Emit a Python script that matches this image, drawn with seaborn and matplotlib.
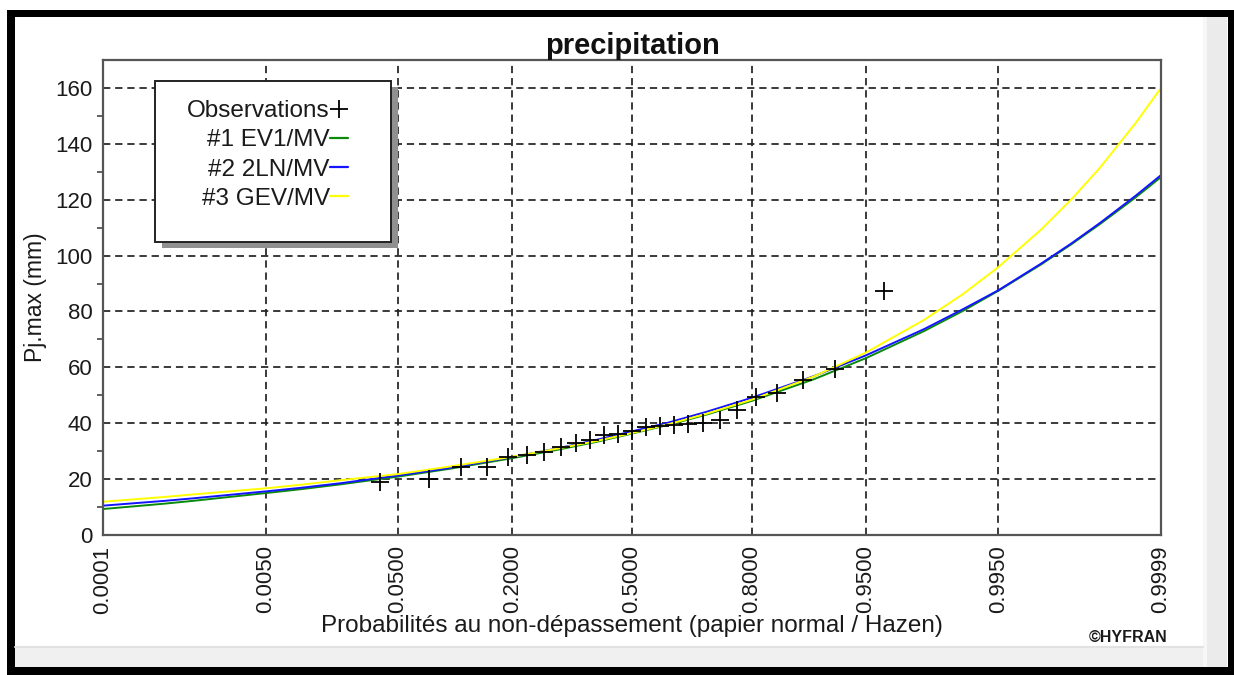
import numpy as np
import pandas as pd
import matplotlib
matplotlib.use("Agg")
import matplotlib.pyplot as plt
import seaborn as sns
from matplotlib.patches import Rectangle
from matplotlib.lines import Line2D
from matplotlib.ticker import FixedLocator
from statistics import NormalDist

# ---------------- data ----------------
tick_probs = [0.0001, 0.0050, 0.0500, 0.2000, 0.5000, 0.8000, 0.9500, 0.9950, 0.9999]
tick_labels = ["0.0001", "0.0050", "0.0500", "0.2000", "0.5000", "0.8000", "0.9500", "0.9950", "0.9999"]
y_ticks = [0, 20, 40, 60, 80, 100, 120, 140, 160]

obs_prob = [0.038, 0.077, 0.115, 0.154, 0.192, 0.231, 0.269, 0.308, 0.346, 0.385,
            0.423, 0.462, 0.500, 0.538, 0.577, 0.615, 0.654, 0.692, 0.731, 0.769,
            0.808, 0.846, 0.885, 0.923, 0.962]
obs_value = [19.1, 20.0, 24.2, 24.5, 28.0, 28.8, 29.6, 31.6, 32.9, 34.0,
             35.8, 36.0, 37.4, 38.6, 39.0, 39.2, 39.6, 40.2, 41.2, 44.7,
             49.5, 50.7, 55.5, 59.3, 87.2]

curve_prob = [0.0001, 0.0005, 0.001, 0.005, 0.01, 0.02, 0.05, 0.1, 0.2, 0.3, 0.4, 0.5,
              0.6, 0.7, 0.8, 0.9, 0.95, 0.98, 0.99, 0.995, 0.998, 0.999, 0.9995, 0.9998, 0.9999]
ev1_mv = [9.3, 11.2, 12.2, 15.0, 16.4, 18.1, 20.9, 23.7, 27.5, 30.5, 33.3, 36.3,
          39.4, 43.1, 48.0, 55.8, 63.3, 73.0, 80.2, 87.4, 96.9, 104.1, 111.3, 120.8, 128.1]
ln2_mv = [10.5, 12.2, 13.1, 15.6, 16.9, 18.5, 21.3, 24.0, 27.9, 31.0, 34.0, 37.1,
          40.2, 44.1, 49.1, 56.9, 64.3, 73.7, 80.8, 87.6, 97.2, 104.4, 111.7, 121.4, 128.8]
gev_mv = [11.9, 13.6, 14.5, 16.7, 18.0, 19.6, 21.8, 24.5, 28.0, 30.9, 33.6, 36.5,
          39.6, 43.4, 48.4, 56.8, 65.3, 77.0, 86.2, 95.9, 109.4, 120.2, 131.5, 147.4, 160.0]

series_names = ["#1 EV1/MV", "#2 2LN/MV", "#3 GEV/MV"]
series_colors = ["#0a8a0a", "#1414ff", "#ffff00"]

# ---------------- setup ----------------
sns.set_theme(style="white")
plt.rcParams['font.family'] = ['Liberation Sans', 'DejaVu Sans']

W, H = 1234, 675
fig = plt.figure(figsize=(W / 100, H / 100), dpi=100)
fig.patch.set_facecolor("white")

def fx(px):
    return px / W

def fy(py):
    return 1 - py / H

# window frame
fig.add_artist(Rectangle((fx(7), fy(675)), fx(1234) - fx(7), fy(10) - fy(675),
                         transform=fig.transFigure, facecolor="black", edgecolor="none", zorder=0))
fig.add_artist(Rectangle((fx(15), fy(667)), fx(1228) - fx(15), fy(17) - fy(667),
                         transform=fig.transFigure, facecolor="white", edgecolor="none", zorder=0))
fig.add_artist(Rectangle((fx(1203), fy(667)), fx(1227) - fx(1203), fy(17) - fy(667),
                         transform=fig.transFigure, facecolor="#ebebeb", edgecolor="none", zorder=0))
fig.add_artist(Rectangle((fx(1203), fy(667)), fx(1207) - fx(1203), fy(17) - fy(667),
                         transform=fig.transFigure, facecolor="#f7f7f7", edgecolor="none", zorder=0))
fig.add_artist(Rectangle((fx(15), fy(667)), fx(1203) - fx(15), fy(647) - fy(667),
                         transform=fig.transFigure, facecolor="#f0f0f0", edgecolor="none", zorder=0))
fig.add_artist(Line2D([fx(15), fx(1203)], [fy(647), fy(647)], transform=fig.transFigure,
                      color="#e2e2e2", lw=1.5, zorder=0))

ax = fig.add_axes([fx(103), fy(535), fx(1161) - fx(103), fy(60) - fy(535)])
ax.set_facecolor("white")
ax.set_axisbelow(True)

nd = NormalDist()
curve_z = [nd.inv_cdf(p) for p in curve_prob]
obs_z = [nd.inv_cdf(p) for p in obs_prob]

df = pd.DataFrame({
    "z": curve_z * 3,
    "value": ev1_mv + ln2_mv + gev_mv,
    "model": [series_names[0]] * len(curve_z) + [series_names[1]] * len(curve_z) + [series_names[2]] * len(curve_z),
})
sns.lineplot(data=df, x="z", y="value", hue="model", hue_order=series_names,
             palette=dict(zip(series_names, series_colors)), sort=False, estimator=None,
             legend=False, linewidth=1.4, ax=ax)
sns.scatterplot(x=obs_z, y=obs_value, marker="+", s=160, color="black", linewidth=1.3,
                legend=False, ax=ax, zorder=3)

# axes
ax.set_xlim(nd.inv_cdf(tick_probs[0]), nd.inv_cdf(tick_probs[-1]))
ax.set_ylim(0, 170)
ax.set_xticks([nd.inv_cdf(p) for p in tick_probs])
ax.set_xticklabels(tick_labels, rotation=90)
ax.set_yticks(y_ticks)
ax.yaxis.set_minor_locator(FixedLocator([10, 30, 50, 70, 90, 110, 130, 150]))
ax.grid(True, which="major", color="#222222", linestyle=(0, (4.2, 2.8)), linewidth=1.25)
ax.tick_params(axis="both", which="major", direction="inout", length=9, width=1.3,
               color="#444444", labelsize=16, labelcolor="#1a1a1a", pad=3)
ax.tick_params(axis="y", which="minor", direction="out", length=4, width=1.2, color="#444444", left=True)
for s in ax.spines.values():
    s.set_visible(True)
    s.set_color("#555555")
    s.set_linewidth(1.6)

ax.set_title("precipitation", fontsize=21, fontweight="bold", color="#111111", pad=4)
ax.set_xlabel("Probabilités au non-dépassement (papier normal / Hazen)", fontsize=17.5, color="#1a1a1a")
ax.xaxis.set_label_coords(0.5, -0.168)
ax.xaxis.label.set_va("top")
ax.set_ylabel("Pj.max (mm)", fontsize=16.5, color="#1a1a1a")
ax.yaxis.set_label_coords(-0.053, 0.5)

# legend box with shadow
aw, ah = 1058, 475
bx0, bx1 = (155 - 103) / aw, (391 - 103) / aw
by0, by1 = (535 - 242) / ah, (535 - 81) / ah
ax.add_patch(Rectangle((bx0 + 7 / aw, by0 - 6 / ah), bx1 - bx0, by1 - by0, transform=ax.transAxes,
                       facecolor="#909090", edgecolor="none", zorder=4.4))
ax.add_patch(Rectangle((bx0, by0), bx1 - bx0, by1 - by0, transform=ax.transAxes,
                       facecolor="white", edgecolor="#222222", linewidth=1.4, zorder=4.5))

handles = [Line2D([], [], marker="+", color="black", ls="none", ms=13, mew=1.3)]
handles += [Line2D([], [], color=c, lw=1.6) for c in series_colors]
labels = ["Observations"] + series_names
leg = ax.legend(handles, labels, loc="upper right",
                bbox_to_anchor=((348 - 103) / aw, (535 - 100) / ah),
                frameon=False, markerfirst=False, handlelength=0.75, handletextpad=0.0,
                labelspacing=0.3, fontsize=17.5, borderpad=0, borderaxespad=0)
for t in leg.get_texts():
    t.set_color("#1a1a1a")
leg.set_zorder(6)

fig.text(fx(1128), fy(637), "©HYFRAN", ha="center", va="center", fontsize=11.5,
         fontweight="bold", color="#1a1a1a")

fig.savefig("out.png", dpi=100, facecolor=fig.get_facecolor())
